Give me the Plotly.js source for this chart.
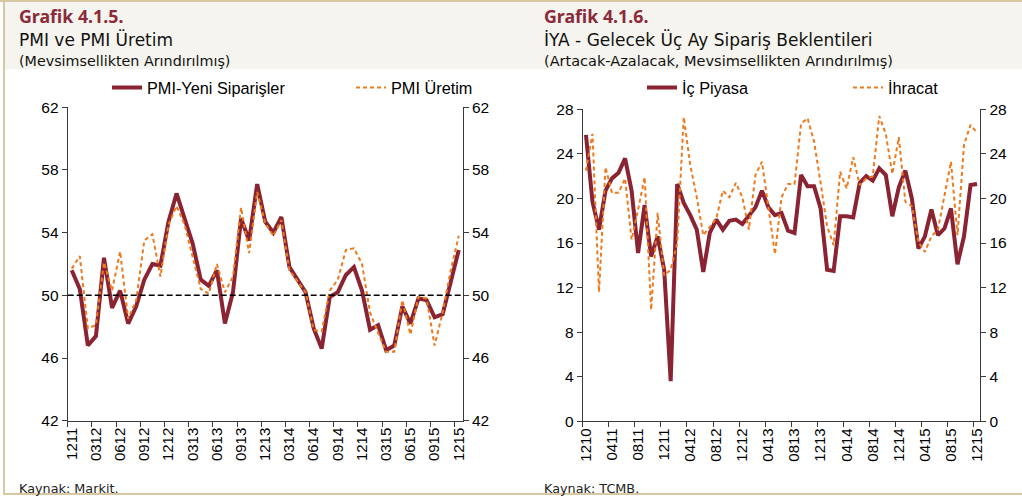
<!DOCTYPE html>
<html>
<head>
<meta charset="utf-8">
<script src="https://cdn.plot.ly/plotly-3.0.1.min.js"></script>
<style>html,body{margin:0;padding:0;background:#fff;}#chart{width:1022px;height:499px;}</style>
</head>
<body>
<div id="chart"></div>
<script>
// ---- Left chart (Grafik 4.1.5) ----
const leftCats = ["1211","0112","0212","0312","0412","0512","0612","0712","0812","0912","1012","1112",
  "1212","0113","0213","0313","0413","0513","0613","0713","0813","0913","1013","1113",
  "1213","0114","0214","0314","0414","0514","0614","0714","0814","0914","1014","1114",
  "1214","0115","0215","0315","0415","0515","0615","0715","0815","0915","1015","1115","1215"];
const pmiYeniSiparisler = [51.6,50.4,46.8,47.4,52.4,49.2,50.3,48.2,49.3,51.0,
  52.0,51.9,54.7,56.5,54.9,53.3,51.0,50.6,51.6,48.2,
  50.2,54.9,53.5,57.1,54.7,54.0,55.0,51.8,51.0,50.2,
  47.9,46.6,49.9,50.2,51.3,51.8,50.3,47.8,48.1,46.5,
  46.8,49.3,48.2,49.8,49.7,48.6,48.8,50.9,52.9];
const pmiUretim = [51.7,52.5,47.9,48.1,52.1,50.3,52.8,48.5,49.7,53.5,
  53.9,51.2,54.5,55.7,54.5,52.5,50.4,50.1,52.0,50.2,
  51.2,55.6,52.7,56.6,54.6,53.8,54.8,51.6,50.9,50.2,
  47.8,47.7,50.3,51.0,52.9,53.0,52.0,48.9,47.6,46.4,
  46.4,49.7,47.5,49.9,49.8,46.8,48.9,51.6,53.8];
const pmiThreshold = 50;

// ---- Right chart (Grafik 4.1.6) ----
const rightCats = ["1210","0111","0211","0311","0411","0511","0611","0711","0811","0911","1011","1111",
  "1211","0112","0212","0312","0412","0512","0612","0712","0812","0912","1012","1112",
  "1212","0113","0213","0313","0413","0513","0613","0713","0813","0913","1013","1113",
  "1213","0114","0214","0314","0414","0514","0614","0714","0814","0914","1014","1114",
  "1214","0115","0215","0315","0415","0515","0615","0715","0815","0915","1015","1115","1215"];
const icPiyasa = [25.7,19.7,17.2,20.7,21.8,22.3,23.6,20.7,15.1,19.4,
  14.8,16.6,13.6,3.6,21.3,19.6,18.5,17.2,13.4,16.9,
  18.1,17.2,18.0,18.1,17.7,18.5,19.2,20.7,19.2,18.5,
  18.7,17.1,16.9,22.1,21.1,21.1,19.1,13.6,13.5,18.4,
  18.4,18.3,21.4,22.0,21.6,22.7,22.1,18.4,21.0,22.5,
  20.0,15.5,16.6,19.0,16.7,17.3,19.1,14.1,16.6,21.2,21.3];
const ihracat = [22.5,25.8,11.6,22.8,20.5,20.5,21.8,16.3,19.0,21.9,
  10.0,18.7,13.1,13.6,16.0,27.3,23.0,20.1,16.7,17.5,
  18.2,20.7,20.1,21.4,20.1,17.2,22.1,23.3,19.3,15.0,
  20.1,21.3,21.3,26.7,27.2,25.1,21.4,17.5,15.8,22.4,
  20.9,23.7,21.2,21.8,22.0,27.4,25.8,22.2,25.5,19.7,
  19.3,16.1,15.2,16.6,17.2,20.1,23.3,16.7,24.8,26.6,25.9];

const W = 1022, H = 499;
const px = v => v / W;
const py = v => 1 - v / H;

const RED = '#8A2332';
const ORANGE = '#EE7A1E';
const AXC = '#3a3a3a';
const TXT = "'Noto Sans', sans-serif";
const WIDE = "'DejaVu Sans', sans-serif";
const ARIAL = "'Liberation Sans', Arial, sans-serif";

const traces = [
  {x: leftCats, y: pmiYeniSiparisler, name: 'PMI-Yeni Siparişler', type: 'scatter', mode: 'lines',
   xaxis: 'x', yaxis: 'y', line: {color: RED, width: 4}, legend: 'legend', hoverinfo: 'skip'},
  {x: leftCats, y: pmiUretim, name: 'PMI Üretim', type: 'scatter', mode: 'lines',
   xaxis: 'x', yaxis: 'y2', line: {color: ORANGE, width: 2, dash: '4px,3px'}, legend: 'legend2', hoverinfo: 'skip'},
  {x: rightCats, y: icPiyasa, name: 'İç Piyasa', type: 'scatter', mode: 'lines',
   xaxis: 'x2', yaxis: 'y3', line: {color: RED, width: 4}, legend: 'legend3', hoverinfo: 'skip'},
  {x: rightCats, y: ihracat, name: 'İhracat', type: 'scatter', mode: 'lines',
   xaxis: 'x2', yaxis: 'y4', line: {color: ORANGE, width: 2, dash: '4px,3px'}, legend: 'legend4', hoverinfo: 'skip'}
];

const xCommon = {type: 'category', tickmode: 'linear', tick0: 0, tickson: 'boundaries',
  ticks: 'outside', ticklen: 5, tickwidth: 1, tickcolor: AXC, tickangle: -90,
  showline: true, linecolor: AXC, linewidth: 1, showgrid: false, zeroline: false,
  tickfont: {family: ARIAL, size: 15, color: '#000'}, fixedrange: true};
const yCommon = {ticks: 'outside', ticklen: 5, tickwidth: 1, tickcolor: AXC,
  showline: true, linecolor: AXC, linewidth: 1, showgrid: false, zeroline: false,
  tickfont: {family: ARIAL, size: 15.5, color: '#000'}, fixedrange: true, tickmode: 'linear'};

const legCommon = {orientation: 'h', xanchor: 'left', yanchor: 'middle', y: py(88),
  bgcolor: 'rgba(0,0,0,0)', borderwidth: 0, font: {family: ARIAL, size: 16.3, color: '#000'}};

const ann = (x, y, text, size, color, bold, fam) => ({
  xref: 'paper', yref: 'paper', x: px(x), y: py(y), xanchor: 'left', yanchor: 'middle',
  showarrow: false, text: bold ? '<b>' + text + '</b>' : text,
  font: {family: fam || TXT, size: size, color: color}, borderpad: 0
});

const layout = {
  width: W, height: H,
  margin: {l: 0, r: 0, t: 0, b: 0},
  paper_bgcolor: '#ffffff', plot_bgcolor: 'rgba(0,0,0,0)',
  showlegend: true,
  xaxis: Object.assign({}, xCommon, {domain: [px(67.7), px(462.8)], anchor: 'y', range: [-0.5, leftCats.length - 0.5], dtick: 3}),
  yaxis: Object.assign({}, yCommon, {domain: [py(420.7), py(107.3)], anchor: 'x', range: [42, 62], dtick: 4, tick0: 42}),
  yaxis2: Object.assign({}, yCommon, {overlaying: 'y', side: 'right', anchor: 'x', range: [42, 62], dtick: 4, tick0: 42}),
  xaxis2: Object.assign({}, xCommon, {domain: [px(582.7), px(980.3)], anchor: 'y3', range: [-0.5, rightCats.length - 0.5], dtick: 4}),
  yaxis3: Object.assign({}, yCommon, {domain: [py(421.3), py(109.3)], anchor: 'x2', range: [0, 28], dtick: 4, tick0: 0}),
  yaxis4: Object.assign({}, yCommon, {overlaying: 'y3', side: 'right', anchor: 'x2', range: [0, 28], dtick: 4, tick0: 0}),
  legend: Object.assign({}, legCommon, {x: px(107)}),
  legend2: Object.assign({}, legCommon, {x: px(351)}),
  legend3: Object.assign({}, legCommon, {x: px(642)}),
  legend4: Object.assign({}, legCommon, {x: px(848)}),
  shapes: [
    {type: 'rect', xref: 'paper', yref: 'paper', x0: px(5), x1: 1, y0: py(69), y1: py(2),
     fillcolor: '#F6F4EE', line: {width: 0}, layer: 'below'},
    {type: 'line', xref: 'paper', yref: 'paper', x0: 0, x1: 1, y0: py(1), y1: py(1),
     line: {color: '#D7C8A2', width: 2}},
    {type: 'line', xref: 'paper', yref: 'paper', x0: px(4), x1: px(4), y0: py(0), y1: py(494),
     line: {color: '#D7C8A2', width: 2}},
    {type: 'line', xref: 'paper', yref: 'paper', x0: px(3), x1: 1, y0: py(494), y1: py(494),
     line: {color: '#D7C8A2', width: 2}},
    {type: 'line', xref: 'x domain', yref: 'y', x0: 0, x1: 1, y0: pmiThreshold, y1: pmiThreshold,
     line: {color: '#000', width: 1.5, dash: '6px,3px'}}
  ],
  annotations: [
    ann(18, 16, 'Grafik 4.1.5.', 17.8, '#8B2A3A', true),
    ann(18, 40, 'PMI ve PMI Üretim', 17, '#111', false, WIDE),
    ann(18, 61, '(Mevsimsellikten Arındırılmış)', 14.3, '#111', false, WIDE),
    ann(543, 16, 'Grafik 4.1.6.', 17.8, '#8B2A3A', true),
    ann(543, 40, 'İYA - Gelecek Üç Ay Sipariş Beklentileri', 17, '#111', false, WIDE),
    ann(543, 61, '(Artacak-Azalacak, Mevsimsellikten Arındırılmış)', 14.5, '#111', false, WIDE),
    ann(18, 488, 'Kaynak: Markit.', 12.8, '#222', false, WIDE),
    ann(543, 488, 'Kaynak: TCMB.', 12.8, '#222', false, WIDE)
  ]
};

Plotly.newPlot('chart', traces, layout, {staticPlot: true, displayModeBar: false});
</script>
</body>
</html>
